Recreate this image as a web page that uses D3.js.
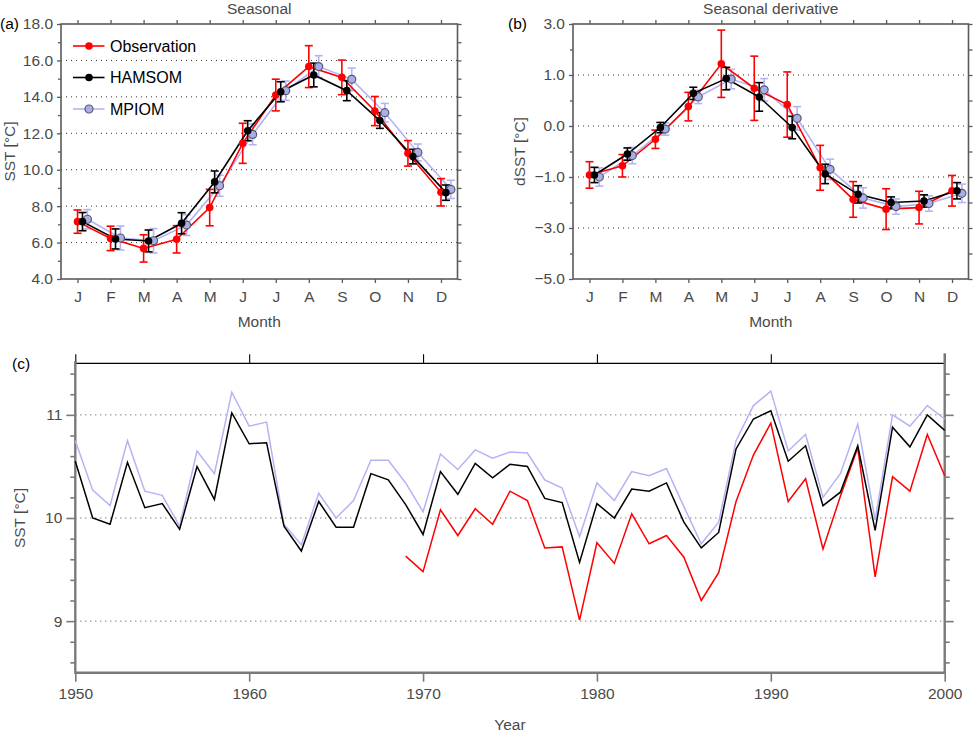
<!DOCTYPE html>
<html><head><meta charset="utf-8">
<script src="https://cdn.jsdelivr.net/npm/d3@7"></script>
<style>
body{margin:0;background:#fff;}
svg{display:block;font-family:"Liberation Sans",Arial,Helvetica,sans-serif;}
</style></head>
<body><svg id="chart" width="973" height="732"></svg>
<script>
// ---------- DATA ----------
const months = ["J","F","M","A","M","J","J","A","S","O","N","D"];
const monthIdx = [1,2,3,4,5,6,7,8,9,10,11,12];

// Panel (a) seasonal SST
const seasObs    = [7.15,6.23,5.68,6.18,7.92,11.45,14.10,15.66,15.07,13.22,10.90,8.76];
const seasObsErr = [0.64,0.67,0.75,0.75,1.00,1.10,0.87,1.15,0.95,0.80,0.70,0.75];
const seasHam    = [7.15,6.20,6.09,7.06,9.33,12.14,14.28,15.20,14.34,12.70,10.72,8.74];
const seasHamErr = [0.50,0.55,0.60,0.58,0.60,0.55,0.55,0.65,0.55,0.43,0.40,0.42];
const seasMpi    = [7.28,6.25,6.10,6.96,9.12,11.94,14.34,15.66,14.96,13.13,10.95,8.92];
const seasMpiErr = [0.53,0.66,0.67,0.57,0.58,0.57,0.53,0.60,0.62,0.51,0.46,0.50];
const seasTicks  = [4,6,8,10,12,14,16,18];
const seasMinor  = [5,7,9,11,13,15,17];
const seasGrid   = [6,8,10,12,14,16];

// Panel (b) seasonal derivative (plotted on the axis position units)
const derObs    = [-0.96,-0.78,-0.26,0.38,1.22,0.74,0.42,-0.82,-1.44,-1.63,-1.60,-1.27];
const derObsErr = [0.26,0.22,0.18,0.28,0.66,0.63,0.64,0.44,0.35,0.40,0.32,0.30];
const derHam    = [-0.96,-0.55,-0.03,0.64,0.93,0.57,-0.03,-0.94,-1.34,-1.50,-1.47,-1.27];
const derHamErr = [0.15,0.12,0.10,0.12,0.22,0.28,0.22,0.19,0.17,0.11,0.12,0.16];
const derMpi    = [-1.00,-0.58,-0.06,0.57,0.92,0.71,0.15,-0.85,-1.41,-1.58,-1.52,-1.32];
const derMpiErr = [0.18,0.16,0.12,0.13,0.19,0.22,0.23,0.20,0.20,0.15,0.15,0.18];
const derTicks      = [2,1,0,-1,-2,-3];
const derTickLabels = ["3.0","1.0","0.0","\u22121.0","\u22123.0","\u22125.0"];
const derMinor      = [1.5,0.5,-0.5,-1.5,-2.5];
const derGrid       = [1,0,-1,-2];

// Panel (c) annual SST
const years = [1950,1951,1952,1953,1954,1955,1956,1957,1958,1959,
               1960,1961,1962,1963,1964,1965,1966,1967,1968,1969,
               1970,1971,1972,1973,1974,1975,1976,1977,1978,1979,
               1980,1981,1982,1983,1984,1985,1986,1987,1988,1989,
               1990,1991,1992,1993,1994,1995,1996,1997,1998,1999,2000];
const annHam = [10.55,10.00,9.94,10.54,10.10,10.14,9.89,10.50,10.18,11.02,
                10.72,10.73,9.92,9.68,10.16,9.91,9.91,10.43,10.37,10.13,
                9.84,10.45,10.23,10.53,10.39,10.52,10.50,10.19,10.15,9.57,
                10.14,10.00,10.28,10.26,10.34,9.96,9.71,9.86,10.67,10.96,
                11.04,10.55,10.70,10.12,10.25,10.70,9.88,10.88,10.69,11.00,10.85];
const annMpi = [10.75,10.27,10.12,10.75,10.26,10.22,9.92,10.65,10.43,11.22,
                10.89,10.93,9.94,9.74,10.24,10.00,10.17,10.56,10.56,10.34,
                10.06,10.62,10.47,10.66,10.58,10.64,10.63,10.37,10.29,9.82,
                10.34,10.17,10.45,10.41,10.48,10.11,9.75,9.96,10.75,11.09,
                11.23,10.65,10.81,10.20,10.43,10.91,9.98,11.00,10.89,11.09,10.96];
const annObs = [null,null,null,null,null,null,null,null,null,null,
                null,null,null,null,null,null,null,null,null,9.63,
                9.48,10.08,9.83,10.09,9.94,10.26,10.17,9.71,9.72,9.01,
                9.76,9.56,10.04,9.75,9.83,9.62,9.20,9.47,10.16,10.61,
                10.92,10.16,10.38,9.70,10.21,10.68,9.43,10.40,10.26,10.81,10.41];
const annTicks  = [9,10,11];
const annMinor  = [8.6,8.8,9.2,9.4,9.6,9.8,10.2,10.4,10.6,10.8,11.2,11.4];
const annGrid   = [9,10,11];
const yearTicks = [1950,1960,1970,1980,1990,2000];

const seriesNames = ["Observation","HAMSOM","MPIOM"];

// ---------- STYLE ----------
const RED = "#ff0000", BLACK = "#000000", LAV = "#b4b4f4";
const MPI_FILL = "#a9aee6", MPI_STROKE = "#555a70";
const TXT = "#4a4a4a", FRAME = "#5a5a5a";
const FS = 15.5;

const svg = d3.select("#chart");

function text(x, y, s, opts = {}) {
  const t = svg.append("text").attr("x", x).attr("y", y).text(s)
    .attr("font-size", opts.size || FS)
    .attr("fill", opts.fill || TXT)
    .attr("text-anchor", opts.anchor || "middle");
  if (opts.rotate) t.attr("transform", `rotate(-90,${x},${y})`).attr("dominant-baseline", "central");
  return t;
}

// ---------- SEASONAL PANELS ----------
function seasonalPanel(cfg) {
  const {L, R, T, B} = cfg;
  const x = d3.scaleLinear().domain([0.5, 12.5]).range([L, R]);
  const y = d3.scaleLinear().domain(cfg.domain).range([B, T]);
  const g = svg.append("g");

  // grid
  g.selectAll(".grid").data(cfg.grid).enter().append("line")
    .attr("x1", L).attr("x2", R).attr("y1", d => y(d)).attr("y2", d => y(d))
    .attr("stroke", "#333").attr("stroke-width", 1).attr("stroke-dasharray", "1,4");

  // axes (outward ticks)
  const fmt = cfg.labels ? (d => cfg.labels[cfg.ticks.indexOf(d)]) : d3.format(".1f");
  const left = g.append("g").attr("transform", `translate(${L},0)`)
    .call(d3.axisLeft(y).tickValues(cfg.ticks).tickFormat(fmt).tickSize(4).tickPadding(4));
  left.selectAll("text").attr("font-size", FS).attr("fill", TXT).attr("font-family", null);
  const leftMinor = g.append("g").attr("transform", `translate(${L},0)`)
    .call(d3.axisLeft(y).tickValues(cfg.minor).tickFormat("").tickSize(3));
  const right = g.append("g").attr("transform", `translate(${R},0)`)
    .call(d3.axisRight(y).tickValues(cfg.ticks.concat(cfg.minor)).tickFormat("").tickSize(4));
  const bottom = g.append("g").attr("transform", `translate(0,${B})`)
    .call(d3.axisBottom(x).tickValues(monthIdx).tickFormat((d, i) => months[i]).tickSize(4).tickPadding(8));
  bottom.selectAll("text").attr("font-size", FS).attr("fill", TXT).attr("font-family", null);
  const top = g.append("g").attr("transform", `translate(0,${T})`)
    .call(d3.axisTop(x).tickValues(monthIdx).tickFormat("").tickSize(4));
  [left, leftMinor, right, bottom, top].forEach(a => {
    a.select(".domain").remove();
    a.selectAll("line").attr("stroke", FRAME).attr("stroke-width", 1.3);
  });
  g.append("rect").attr("x", L).attr("y", T).attr("width", R - L).attr("height", B - T)
    .attr("fill", "none").attr("stroke", FRAME).attr("stroke-width", 1.6);

  const series = [
    {v: cfg.obs, e: cfg.obsErr, off: 0,    col: RED,   fill: RED,      stroke: "none", r: 3.8},
    {v: cfg.ham, e: cfg.hamErr, off: 0.15, col: BLACK, fill: BLACK,    stroke: "none", r: 3.8},
    {v: cfg.mpi, e: cfg.mpiErr, off: 0.3,  col: LAV,   fill: MPI_FILL, stroke: MPI_STROKE, r: 4}
  ];
  const order = [2, 0, 1];
  order.forEach(k => {
    const s = series[k];
    const pts = s.v.map((v, i) => ({m: monthIdx[i] + s.off, v, e: s.e[i]}));
    const sg = g.append("g");
    sg.append("path").datum(pts)
      .attr("d", d3.line().x(d => x(d.m)).y(d => y(d.v)))
      .attr("fill", "none").attr("stroke", s.col).attr("stroke-width", 1.6);
    const eb = sg.selectAll(".eb").data(pts).enter().append("g");
    eb.append("line").attr("x1", d => x(d.m)).attr("x2", d => x(d.m))
      .attr("y1", d => y(d.v + d.e)).attr("y2", d => y(d.v - d.e))
      .attr("stroke", s.col).attr("stroke-width", 1.6);
    [1, -1].forEach(sgn => {
      eb.append("line").attr("x1", d => x(d.m) - 4).attr("x2", d => x(d.m) + 4)
        .attr("y1", d => y(d.v + sgn * d.e)).attr("y2", d => y(d.v + sgn * d.e))
        .attr("stroke", s.col).attr("stroke-width", 1.6);
    });
  });
  order.forEach(k => {
    const s = series[k];
    const pts = s.v.map((v, i) => ({m: monthIdx[i] + s.off, v}));
    g.append("g").selectAll("circle").data(pts).enter().append("circle")
      .attr("cx", d => x(d.m)).attr("cy", d => y(d.v)).attr("r", s.r)
      .attr("fill", s.fill).attr("stroke", s.stroke).attr("stroke-width", 1.2);
  });

  // titles/labels
  text((L + R) / 2, 14, cfg.title);
  text((L + R) / 2, 327, "Month");
  text(cfg.ylx, (T + B) / 2, cfg.ylabel, {rotate: true});
  text(cfg.tagx, 29, cfg.tag, {anchor: "start", fill: "#000"});

  if (cfg.legend) {
    const lg = [
      {name: seriesNames[0], col: RED, fill: RED, stroke: "none", r: 3.8, yy: 46},
      {name: seriesNames[1], col: BLACK, fill: BLACK, stroke: "none", r: 3.8, yy: 77.5},
      {name: seriesNames[2], col: LAV, fill: MPI_FILL, stroke: MPI_STROKE, r: 4, yy: 109}
    ];
    lg.forEach(d => {
      svg.append("line").attr("x1", 73).attr("x2", 104.5).attr("y1", d.yy).attr("y2", d.yy)
        .attr("stroke", d.col).attr("stroke-width", 1.6);
      svg.append("circle").attr("cx", 89).attr("cy", d.yy).attr("r", d.r)
        .attr("fill", d.fill).attr("stroke", d.stroke).attr("stroke-width", 1.2);
      text(110, d.yy + 5.5, d.name, {anchor: "start", fill: "#000", size: 16});
    });
  }
}

seasonalPanel({L: 61, R: 457.5, T: 24, B: 279, domain: [4, 18],
  ticks: seasTicks, minor: seasMinor, grid: seasGrid,
  obs: seasObs, obsErr: seasObsErr, ham: seasHam, hamErr: seasHamErr, mpi: seasMpi, mpiErr: seasMpiErr,
  title: "Seasonal", ylabel: "SST [\u00B0C]", ylx: 9, tag: "(a)", tagx: 0, legend: true});

seasonalPanel({L: 573, R: 968.5, T: 24, B: 279, domain: [-3, 2],
  ticks: derTicks, labels: derTickLabels, minor: derMinor, grid: derGrid,
  obs: derObs, obsErr: derObsErr, ham: derHam, hamErr: derHamErr, mpi: derMpi, mpiErr: derMpiErr,
  title: "Seasonal derivative", ylabel: "dSST [\u00B0C]", ylx: 519.5, tag: "(b)", tagx: 508, legend: false});

// ---------- ANNUAL PANEL ----------
(function () {
  const L = 75.3, R = 944.7, T = 363.3, B = 672.7;
  const x = d3.scaleLinear().domain([1950, 2000]).range([L, R]);
  const y = d3.scaleLinear().domain([8.5, 11.5]).range([B, T]);
  const g = svg.append("g");
  const AX = "#7a7a7a";

  g.selectAll(".grid").data(annGrid).enter().append("line")
    .attr("x1", L).attr("x2", R).attr("y1", d => y(d)).attr("y2", d => y(d))
    .attr("stroke", "#444").attr("stroke-width", 1).attr("stroke-dasharray", "1,4");

  const left = g.append("g").attr("transform", `translate(${L},0)`)
    .call(d3.axisLeft(y).tickValues(annTicks).tickFormat(d3.format("d")).tickSize(9).tickPadding(4));
  left.selectAll("text").attr("font-size", FS).attr("fill", TXT).attr("font-family", null);
  const leftMinor = g.append("g").attr("transform", `translate(${L},0)`)
    .call(d3.axisLeft(y).tickValues(annMinor).tickFormat("").tickSize(5));
  const right = g.append("g").attr("transform", `translate(${R},0)`)
    .call(d3.axisRight(y).tickValues(annTicks).tickFormat("").tickSize(9));
  const rightMinor = g.append("g").attr("transform", `translate(${R},0)`)
    .call(d3.axisRight(y).tickValues(annMinor).tickFormat("").tickSize(5));
  const bottom = g.append("g").attr("transform", `translate(0,${B})`)
    .call(d3.axisBottom(x).tickValues(yearTicks).tickFormat(d3.format("d")).tickSize(9).tickPadding(6));
  bottom.selectAll("text").attr("font-size", FS).attr("fill", TXT).attr("font-family", null);
  const top = g.append("g").attr("transform", `translate(0,${T})`)
    .call(d3.axisTop(x).tickValues(yearTicks).tickFormat("").tickSize(9));
  [left, leftMinor, right, rightMinor, bottom].forEach(a => {
    a.select(".domain").remove();
    a.selectAll("line").attr("stroke", AX).attr("stroke-width", 1.6);
  });
  top.select(".domain").remove();
  top.selectAll("line").attr("stroke", "#000").attr("stroke-width", 1.1);

  g.append("line").attr("x1", L).attr("x2", R).attr("y1", T).attr("y2", T).attr("stroke", "#000").attr("stroke-width", 1.2);
  g.append("line").attr("x1", L).attr("x2", R).attr("y1", B).attr("y2", B).attr("stroke", AX).attr("stroke-width", 2.4);
  g.append("line").attr("x1", L).attr("x2", L).attr("y1", T - 2).attr("y2", B + 1).attr("stroke", AX).attr("stroke-width", 2.4);
  g.append("line").attr("x1", R).attr("x2", R).attr("y1", T - 10).attr("y2", B + 1).attr("stroke", AX).attr("stroke-width", 2.4);

  const line = d3.line().defined(d => d.v !== null).x(d => x(d.yr)).y(d => y(d.v));
  const mk = arr => arr.map((v, i) => ({yr: years[i], v}));
  [[annMpi, LAV], [annObs, RED], [annHam, BLACK]].forEach(([arr, col]) => {
    g.append("path").datum(mk(arr)).attr("d", line)
      .attr("fill", "none").attr("stroke", col).attr("stroke-width", 1.5).attr("stroke-linejoin", "miter");
  });

  text((L + R) / 2, 730, "Year");
  text(19.5, (T + B) / 2, "SST [\u00B0C]", {rotate: true});
  text(12, 369, "(c)", {anchor: "start", fill: "#000"});
})();
</script></body></html>
